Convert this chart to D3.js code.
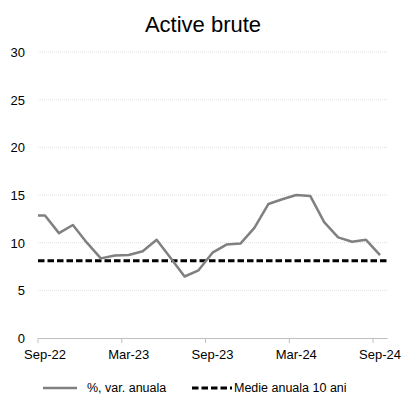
<!DOCTYPE html>
<html lang="ro">
<head>
    <meta charset="UTF-8">
    <title>Active brute</title>
    <script src="https://d3js.org/d3.v7.min.js"></script>
    <style>
        body { margin: 0; background: #fff; }
        text { font-family: "Liberation Sans", Arial, sans-serif; fill: #000; }
        .tick-label { font-size: 13px; }
        .legend-label { font-size: 12.5px; }
    </style>
</head>
<body>
    <svg width="403" height="399"></svg>
    <script>
        // luni (Sep-22 .. Sep-24)
        const months = ["Sep-22", "Oct-22", "Nov-22", "Dec-22", "Jan-23", "Feb-23", "Mar-23",
            "Apr-23", "May-23", "Jun-23", "Jul-23", "Aug-23", "Sep-23", "Oct-23", "Nov-23",
            "Dec-23", "Jan-24", "Feb-24", "Mar-24", "Apr-24", "May-24", "Jun-24", "Jul-24",
            "Aug-24", "Sep-24"];
        const varAnuala = [12.85, 11.0, 11.85, 10.0, 8.35, 8.65, 8.7, 9.1, 10.3, 8.4, 6.45,
            7.1, 8.95, 9.8, 9.9, 11.55, 14.05, 14.55, 15.0, 14.9, 12.15, 10.55, 10.1, 10.3, 8.7];
        const medie10ani = 8.1;
        const yTicks = [0, 5, 10, 15, 20, 25, 30];
        const xLabels = ["Sep-22", "Mar-23", "Sep-23", "Mar-24", "Sep-24"];

        const svg = d3.select("svg");

        const x = d3.scaleBand()
            .domain(months)
            .range([38, 387]);

        const y = d3.scaleLinear()
            .domain([0, 30])
            .range([338, 52]);

        const cx = d => x(d) + x.bandwidth() / 2;

        // titlu
        svg.append("text")
            .attr("x", 203)
            .attr("y", 32)
            .attr("text-anchor", "middle")
            .style("font-size", "22px")
            .text("Active brute");

        // grila orizontala
        svg.append("g")
            .selectAll("line")
            .data(yTicks.filter(d => d > 0))
            .enter()
            .append("line")
            .attr("x1", 38)
            .attr("x2", 387)
            .attr("y1", d => y(d))
            .attr("y2", d => y(d))
            .attr("stroke", "#e0e0e0")
            .attr("stroke-width", 1)
            .attr("stroke-dasharray", "1,1");

        // axa Y (doar etichete)
        const yAxis = svg.append("g")
            .attr("transform", "translate(25,0)")
            .call(d3.axisLeft(y).tickValues(yTicks).tickSize(0).tickPadding(0));
        yAxis.select(".domain").remove();
        yAxis.selectAll("text")
            .attr("class", "tick-label")
            .style("font-family", "Liberation Sans, Arial, sans-serif")
            .attr("dy", "0.35em");

        // axa X
        const xAxis = svg.append("g")
            .attr("transform", `translate(0,${y(0)})`)
            .call(d3.axisBottom(x).tickValues(xLabels).tickSize(0).tickPadding(12));
        xAxis.select(".domain")
            .attr("stroke", "#bfbfbf")
            .attr("stroke-width", 1);
        xAxis.selectAll("text")
            .attr("class", "tick-label")
            .style("font-family", "Liberation Sans, Arial, sans-serif");
        // semne de diviziune la marginea stanga a categoriei
        svg.append("g")
            .selectAll("line")
            .data(xLabels)
            .enter()
            .append("line")
            .attr("x1", d => x(d))
            .attr("x2", d => x(d))
            .attr("y1", y(0))
            .attr("y2", y(0) + 5)
            .attr("stroke", "#bfbfbf");

        // media 10 ani
        svg.append("line")
            .attr("x1", 38)
            .attr("x2", 387)
            .attr("y1", y(medie10ani))
            .attr("y2", y(medie10ani))
            .attr("stroke", "#000")
            .attr("stroke-width", 3)
            .attr("stroke-dasharray", "6.5,3");

        // seria (porneste de la marginea axei, ca in original)
        const pts = [[x(months[0]), y(varAnuala[0])]]
            .concat(varAnuala.map((v, i) => [cx(months[i]), y(v)]));

        svg.append("path")
            .datum(pts)
            .attr("fill", "none")
            .attr("stroke", "#808080")
            .attr("stroke-width", 2.5)
            .attr("stroke-linejoin", "round")
            .attr("d", d3.line());

        // legenda
        const lg = svg.append("g").attr("transform", "translate(0,388)");
        lg.append("line")
            .attr("x1", 43).attr("x2", 77)
            .attr("stroke", "#808080").attr("stroke-width", 2.5);
        lg.append("text")
            .attr("class", "legend-label")
            .attr("x", 87).attr("dy", "0.35em")
            .text("%, var. anuala");
        lg.append("line")
            .attr("x1", 192).attr("x2", 232)
            .attr("stroke", "#000").attr("stroke-width", 3)
            .attr("stroke-dasharray", "6.5,3");
        lg.append("text")
            .attr("class", "legend-label")
            .attr("x", 234).attr("dy", "0.35em")
            .text("Medie anuala 10 ani");
    </script>
</body>
</html>
